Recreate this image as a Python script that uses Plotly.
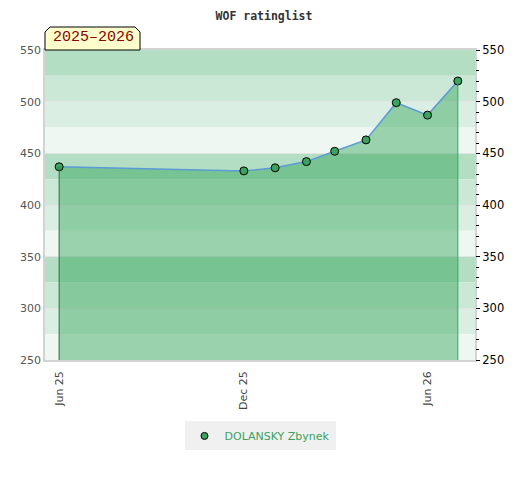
import plotly.graph_objects as go

# monthly ratings
dates = ["2025-06-01", "2025-12-01", "2026-01-01", "2026-02-01", "2026-03-01",
         "2026-04-01", "2026-05-01", "2026-06-01", "2026-07-01"]
ratings = [437, 433, 436, 442, 452, 463, 499, 487, 520]
player = "DOLANSKY Zbynek"
season = "2025–2026"
x_ticks = ["2025-06-01", "2025-12-01", "2026-06-01"]

green = "#3aa35e"
band_colors = ["#b3dec4", "#cbe7d6", "#dbeee3", "#eef7f1"]

fig = go.Figure()

fig.add_trace(go.Scatter(
    x=dates, y=ratings,
    mode="lines+markers",
    name=player,
    showlegend=False,
    fill="tozeroy",
    fillcolor="rgba(34,158,75,0.41)",
    line=dict(color="#5b9bd5", width=1.5),
    marker=dict(size=8, color=green, line=dict(color="black", width=1)),
))
# legend entry: marker only
fig.add_trace(go.Scatter(x=[None], y=[None], mode="markers", name=player,
                         marker=dict(size=7, color=green, line=dict(color="black", width=1))))
# invisible trace to drive the right axis
fig.add_trace(go.Scatter(x=dates, y=ratings, yaxis="y2", mode="markers",
                         marker=dict(opacity=0), showlegend=False, hoverinfo="skip"))

# horizontal bands every 25 points
for i, lo in enumerate(range(525, 249, -25)):
    fig.add_shape(type="rect", xref="paper", yref="y", x0=0, x1=1, y0=lo, y1=lo + 25,
                  fillcolor=band_colors[i % 4], line_width=0, layer="below")

# vertical edges of the filled area
fig.add_shape(type="line", xref="x", yref="y", x0=dates[0], x1=dates[0],
              y0=250, y1=ratings[0], line=dict(color="#2a6e42", width=1))
fig.add_shape(type="line", xref="x", yref="y", x0=dates[-1], x1=dates[-1],
              y0=250, y1=ratings[-1], line=dict(color="#2fae55", width=1))

# season tag with clipped top corners
fig.add_shape(type="path", xref="paper", yref="paper", xsizemode="pixel", ysizemode="pixel",
              xanchor=0, yanchor=1,
              path="M0,0 L0,18 L5,23 L90,23 L95,18 L95,0 Z",
              fillcolor="#ffffcc", line=dict(color="black", width=1), layer="above")
fig.add_annotation(
    text=season, xref="paper", yref="paper", x=0, y=1,
    xanchor="left", yanchor="bottom", showarrow=False, width=95, height=23,
    borderpad=0, align="center", valign="middle",
    font=dict(family="Liberation Mono", size=15, color="#8b0000"),
)

# page body has an 8px margin, so the figure is shrunk by that amount
fig.update_layout(
    width=512, height=472,
    margin=dict(l=37, r=45, t=42, b=120),
    paper_bgcolor="white", plot_bgcolor="white",
    title=dict(text="WOF ratinglist", x=0.5, xanchor="center", y=0.983, yanchor="middle",
               font=dict(family="DejaVu Sans Mono", size=11.5, color="#333", weight="bold")),
    font=dict(family="DejaVu Sans", size=11, color="#444"),
    xaxis=dict(range=["2025-05-18", "2026-07-18"], type="date", automargin=False,
               tickvals=x_ticks, tickformat="%b %y", tickangle=-90, ticklabelstandoff=5,
               showgrid=False, showline=True, mirror=True, linecolor="#d3d3d3", linewidth=1.5,
               ticks="", zeroline=False),
    yaxis=dict(range=[250, 550], dtick=50, showgrid=True, gridcolor="#e4e4e4", automargin=False,
               showline=True, linecolor="#d3d3d3", linewidth=1.5, mirror=True,
               zeroline=False, ticks="", tickfont=dict(color="#555")),
    yaxis2=dict(range=[250, 550], dtick=50, overlaying="y", side="right", automargin=False,
                showgrid=False, zeroline=False, ticks="outside", ticklen=4,
                tickcolor="black", tickfont=dict(color="black", size=11.5),
                minor=dict(dtick=10, ticks="outside", ticklen=3, tickcolor="black")),
    showlegend=True,
    legend=dict(orientation="h", x=0.5, xanchor="center", y=-0.245, yanchor="middle",
                bgcolor="#f0f0f0", font=dict(color=green, size=11)),
)

fig.write_html("out.html")
